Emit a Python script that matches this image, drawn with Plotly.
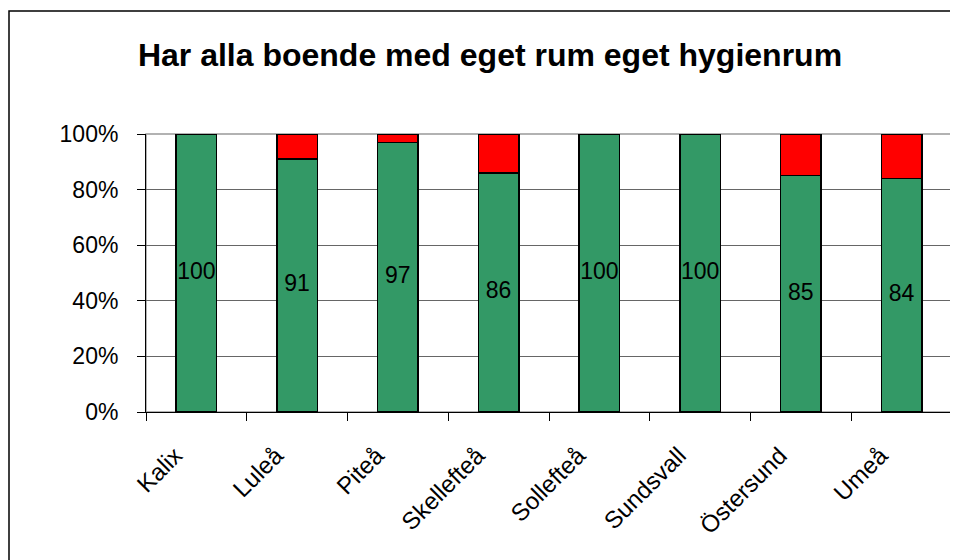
import plotly.graph_objects as go

categories = ["Kalix", "Luleå", "Piteå", "Skellefteå", "Sollefteå", "Sundsvall", "Östersund", "Umeå"]
ja_values = [100, 91, 97, 86, 100, 100, 85, 84]
nej_values = [0, 9, 3, 14, 0, 0, 15, 16]
y_ticks = [0, 20, 40, 60, 80, 100]
y_tick_labels = ["0%", "20%", "40%", "60%", "80%", "100%"]
title_text = "Har alla boende med eget rum eget hygienrum"

FONT = "Liberation Sans, Arial, sans-serif"

# The page body adds an 8px offset, so the figure is 950x552
W, H = 950, 552
L, R, T, B = 138, 6, 126, 148
PW, PH = W - L - R, H - T - B

fig = go.Figure()
fig.add_trace(go.Bar(
    x=categories, y=ja_values, name="Ja",
    marker=dict(color="#339966", line=dict(color="black", width=1.5)),
    showlegend=False, hoverinfo="skip",
))
fig.add_trace(go.Bar(
    x=categories, y=nej_values, name="Nej",
    marker=dict(color="#FF0000", line=dict(color="black", width=1.5)),
    showlegend=False, hoverinfo="skip",
))
fig.add_trace(go.Scatter(
    x=categories, y=[v / 2 for v in ja_values], mode="text",
    text=[str(v) for v in ja_values],
    textfont=dict(family=FONT, size=23, color="black"),
    textposition="middle center", showlegend=False, hoverinfo="skip",
    cliponaxis=False,
))

fig.update_layout(
    width=W, height=H,
    margin=dict(l=L, r=R, t=T, b=B, autoexpand=False),
    paper_bgcolor="white", plot_bgcolor="white",
    barmode="stack", bargap=0.6,
    font=dict(family=FONT, size=23, color="black"),
    title=dict(text="<b>" + title_text + "</b>", x=482 / W, xanchor="center",
               y=1 - 47 / H, yanchor="middle", yref="container",
               font=dict(family=FONT, size=32, color="black")),
    xaxis=dict(
        type="category", tickson="boundaries", ticks="outside", ticklen=8,
        tickcolor="black", tickwidth=1, showline=True, linecolor="black", linewidth=1,
        showgrid=False, tickangle=-45, ticklabelstandoff=19, ticklabelshift=-21,
        automargin=False,
        tickfont=dict(family=FONT, size=24, color="black"),
    ),
    yaxis=dict(
        range=[0, 100], tickmode="array", tickvals=y_ticks, ticktext=y_tick_labels,
        ticks="outside", ticklen=8,
        tickcolor="black", showline=True, linecolor="black", linewidth=1,
        showgrid=True, gridcolor="#666666", gridwidth=1, zeroline=False,
        ticklabelstandoff=14, automargin=False,
        tickfont=dict(family=FONT, size=23, color="black"),
    ),
    shapes=[
        dict(type="rect", xref="paper", yref="paper", x0=0, x1=1, y0=0, y1=1,
             line=dict(color="#999999", width=1.5), layer="below"),
        dict(type="rect", xref="paper", yref="paper",
             x0=(1 - L) / PW, x1=1.2, y0=-0.8, y1=1 + (T - 3) / PH,
             line=dict(color="black", width=1.5), layer="above"),
    ],
)

fig.write_html("out.html")
